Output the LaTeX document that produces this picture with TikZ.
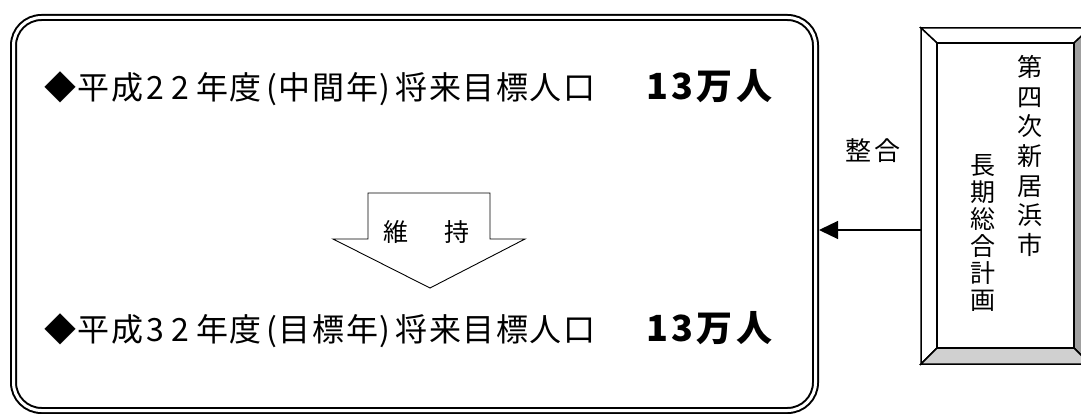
\documentclass[tikz,border=0pt]{standalone}
\usepackage{fontspec}
\setmainfont{Noto Sans CJK JP}
\usetikzlibrary{arrows.meta,calc}
\newdimen\spcd
\def\spc#1{\spcloop#1\relax}
\def\spcloop#1{\ifx#1\relax\else#1\kern\spcd\expandafter\spcloop\fi}
\definecolor{bevdark}{HTML}{A0A0A0}
\definecolor{bevlight}{HTML}{D0D0D0}
\begin{document}
\begin{tikzpicture}[x=1pt,y=-1pt,
  txt/.style={inner sep=0pt, outer sep=0pt},
  maintxt/.style={txt, anchor=base west, font=\fontsize{32}{36}\selectfont},
  bigtxt/.style={txt, anchor=base west, font=\fontsize{36}{40}\selectfont\bfseries},
  bev/.style={draw=black, line width=1.5pt},
]
\clip (0,0) rectangle (1081,414);
% left double rounded box
\node[draw, double, line width=2pt, double distance=3pt, rounded corners=28pt,
      minimum width=802pt, minimum height=393pt, inner sep=0pt, outer sep=3.5pt] (box) at (414.5,214) {};
% texts in box
\node[maintxt] (l1) at (44,100) {\spcd=1.6pt\spc{◆平成}\kern2pt 2\kern7pt 2\kern7pt\spc{年度}\kern3pt\spc{(中間年}\kern0pt)\kern5pt\spc{将来目標人口}};
\node[bigtxt] (n1) at (646,100) {\spcd=3.5pt\spc{13万人}};
\node[maintxt] (l2) at (44,341) {\spcd=1.6pt\spc{◆平成}\kern2pt 3\kern7pt 2\kern7pt\spc{年度}\kern3pt\spc{(目標年}\kern0pt)\kern5pt\spc{将来目標人口}};
\node[bigtxt] (n2) at (646,341) {\spcd=3.5pt\spc{13万人}};
% big down arrow
\coordinate (a1) at (368,193);
\draw[line width=0.9pt, fill=white] (a1) -- (490,193) -- (490,239) -- (525,239) -- (430,288) -- (333,239) -- (368,239) -- cycle;
\node[txt, font=\fontsize{25}{30}\selectfont] (keep) at (426.5,232) {維\kern5.5pt\kern25pt\kern5.5pt 持};
% right beveled frame
\node[minimum width=169pt, minimum height=336pt, inner sep=0pt, outer sep=0pt] (frame) at (1005.5,196) {};
\coordinate (INW) at ($(frame.north west)+(16,15)$);
\coordinate (INE) at ($(frame.north east)+(-16,15)$);
\coordinate (ISE) at ($(frame.south east)+(-16,-16)$);
\coordinate (ISW) at ($(frame.south west)+(16,-16)$);
\filldraw[bev, fill=white] (frame.north west) -- (frame.north east) -- (INE) -- (INW) -- cycle;
\filldraw[bev, fill=white] (frame.north west) -- (INW) -- (ISW) -- (frame.south west) -- cycle;
\filldraw[bev, fill=bevdark] (frame.north east) -- (frame.south east) -- (ISE) -- (INE) -- cycle;
\filldraw[bev, fill=bevlight] (frame.south west) -- (ISW) -- (ISE) -- (frame.south east) -- cycle;
\draw[bev, fill=white] (INW) rectangle (ISE);
\node[txt, align=center, font=\fontsize{25}{29.7}\selectfont] (col1) at (1030,156) {第\\四\\次\\新\\居\\浜\\市};
\node[txt, align=center, font=\fontsize{25}{27}\selectfont] (col2) at (983,232.5) {長\\期\\総\\合\\計\\画};
% connector
\coordinate (ay) at (0,230);
\draw[line width=1.3pt, -{Triangle[length=19pt,width=18pt]}] (frame.west |- ay) -- (box.east |- ay);
\node[txt, font=\fontsize{26}{30}\selectfont] (lbl) at (873,151) {整\kern3pt 合};
\end{tikzpicture}
\end{document}
